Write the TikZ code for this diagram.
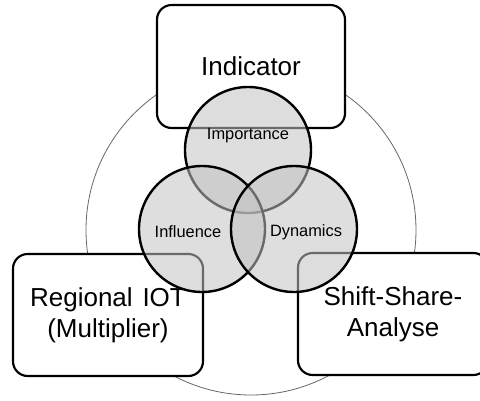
\documentclass[tikz,border=0pt]{standalone}
\usepackage{fontspec}
\setmainfont{Liberation Sans}
\usetikzlibrary{positioning}

\tikzset{
    topicbox/.style={draw=black,fill=white,line width=1.6pt,rounded corners=11pt,
        align=center,inner sep=0pt,font=\fontsize{19.5}{23.5}\selectfont},
    venn/.style={circle,draw=black,line width=1.8pt,fill=black!24,fill opacity=0.55,
        draw opacity=1,text opacity=1,minimum size=94.5pt,inner sep=0pt},
    vennlabel/.style={font=\fontsize{12.3}{14}\selectfont}
}

\begin{document}
\begin{tikzpicture}[x=0.75pt,y=-0.75pt]
    \useasboundingbox (0,0) rectangle (480,401);
    \clip (0,0) rectangle (480,401);
    % outer ring
    \node [circle,draw=black!60,line width=0.6pt,minimum size=247.5pt,inner sep=0pt] (ring) at (251,230) {};
    % the three methods
    \node [topicbox,minimum width=141pt,minimum height=92.25pt] (indicator) at (251,66.5) {Indicator};
    \node [topicbox,minimum width=142.5pt,minimum height=91.5pt] (iot) at (108,315) {Regional\hspace{0.1em} IOT\\(Multiplier)};
    \node [topicbox,minimum width=142.5pt,minimum height=91.5pt] (shift) at (393,314) {Shift-Share-\\Analyse};
    % venn circles
    \node [venn] (importance) at (248,150) {};
    \node [venn] (influence) at (202,229) {};
    \node [venn] (dynamics) at (294,229) {};
    \node [vennlabel] (impl) at (248,136) {Importance};
    \node [vennlabel] (infl) at (188,232) {Influence};
    \node [vennlabel] (dynl) at (306,232) {Dynamics};
\end{tikzpicture}
\end{document}
